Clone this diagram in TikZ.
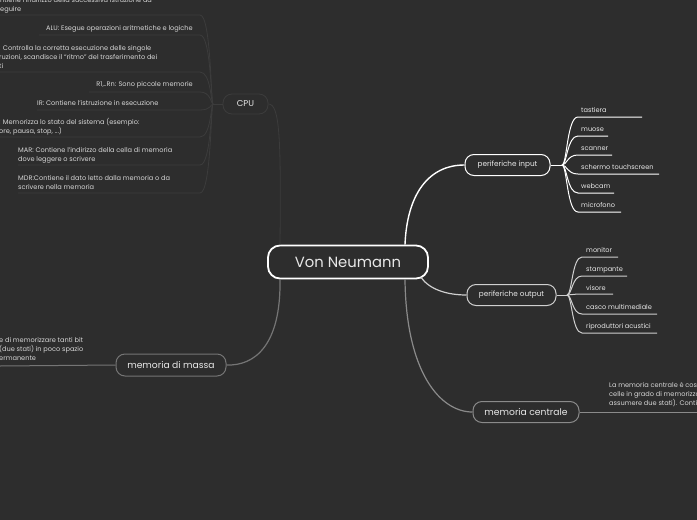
\documentclass[tikz,border=0pt]{standalone}
\usepackage{fontspec}
\setmainfont{Poppins}
\usetikzlibrary{calc}
\definecolor{bg}{HTML}{2D2D2D}
\definecolor{txt}{HTML}{E8E8E8}
\definecolor{smalltxt}{HTML}{D6D6D6}
\definecolor{faint}{HTML}{3C3C3C}
\definecolor{midgrey}{HTML}{8A8A8A}
\definecolor{lightgrey}{HTML}{CFCFCF}
\tikzset{
  mainbox/.style={draw=white, line width=1.8pt, rounded corners=12pt, minimum width=160pt, minimum height=33pt, inner sep=0pt, text=txt, font=\fontsize{14.8}{16}\selectfont},
  topicbox/.style={rounded corners=9pt, inner sep=0pt, minimum height=21pt, text=txt},
  leaf/.style={anchor=west, inner sep=0pt, text=txt, font=\fontsize{6.6}{9}\selectfont, text height=4.8pt, text depth=1.4pt},
  small/.style={inner sep=0pt, text=smalltxt, font=\fontsize{6.6}{9}\selectfont, align=left},
  smallr/.style={inner sep=0pt, text=smalltxt, font=\fontsize{6.6}{9}\selectfont, align=right},
  inbr/.style={draw=white, line width=1pt},
  outbr/.style={draw=lightgrey, line width=1pt},
  cpubr/.style={draw=faint, line width=0.8pt},
}
\begin{document}
\begin{tikzpicture}[x=1pt,y=-1pt]
\fill[bg] (0,0) rectangle (697,520);
\useasboundingbox (0,0) rectangle (697,520);
\clip (0,0) rectangle (697,520);

% central node
\node[mainbox] (VN) at (348,262) {Von Neumann};

% topics
\node[topicbox, draw=faint, line width=0.8pt, minimum width=45pt, minimum height=20pt, font=\fontsize{8.5}{10}\selectfont] (CPU) at (245.5,104) {CPU};
\node[topicbox, draw=white, line width=1pt, minimum width=85pt, font=\fontsize{7.3}{9}\selectfont] (PI) at (507.5,165) {periferiche input};
\node[topicbox, draw=lightgrey, line width=1pt, minimum width=89pt, font=\fontsize{7.3}{9}\selectfont] (PO) at (511.5,295) {periferiche output};
\node[topicbox, draw=midgrey, line width=1pt, minimum width=106pt, font=\fontsize{9.2}{11}\selectfont] (MC) at (526,412) {memoria centrale};
\node[topicbox, draw=midgrey!85!black, line width=1pt, minimum width=110pt, minimum height=22pt, font=\fontsize{9.2}{11}\selectfont] (MM) at (171,365) {memoria di massa};

% anchor points on the central node
\coordinate (vnNE) at ([xshift=57pt]VN.north);
\coordinate (vnNW) at ([xshift=-68pt]VN.north);
\coordinate (vnSE) at ([xshift=73pt,yshift=2pt]VN.south);
\coordinate (vnS2) at ([xshift=57pt]VN.south);
\coordinate (vnSW) at ([xshift=-68pt]VN.south);

% main connectors
\draw[inbr, line width=1.4pt] (vnNE) .. controls (407,195) and (428,165) .. (PI.west);
\draw[outbr, line width=1.2pt] (vnSE) .. controls (430,290) and (448,295) .. (PO.west);
\draw[draw=midgrey, line width=1.2pt] (vnS2) .. controls (406,372) and (440,412) .. (MC.west);
\draw[draw=midgrey!85!black, line width=1.2pt] (vnSW) .. controls (281,345) and (255,366) .. (MM.east);
\draw[cpubr] (vnNW) .. controls (281,140) and (280,104) .. (CPU.east);

% periferiche input leaves
\coordinate (piT) at (562,165);
\draw[inbr] (PI.east) -- (piT);
\foreach \n/\t/\ty/\ly/\ex in {tast/tastiera/110.5/117/642, muos/muose/129.5/136/608, scan/scanner/148.5/155/612, scher/schermo touchscreen/167.5/174/659, web/webcam/186.5/193/614, micro/microfono/206/212/621}{
  \node[leaf] (\n) at (581,\ty) {\t};
  \draw[inbr] (piT) .. controls (567,165) and (567,\ly) .. (578,\ly) -- (\ex,\ly);
}

% periferiche output leaves
\coordinate (poT) at (567,295);
\draw[outbr] (PO.east) -- (poT);
\foreach \n/\t/\ty/\ly/\ex in {moni/monitor/250.5/257/618, stam/stampante/269.5/276/627, viso/visore/288.5/294/613, casc/casco multimediale/307.5/314/657, ripr/riproduttori acustici/326.5/333/657}{
  \node[leaf] (\n) at (586,\ty) {\t};
  \draw[outbr] (poT) .. controls (572,295) and (572,\ly) .. (582,\ly) -- (\ex,\ly);
}

% memoria centrale text
\coordinate (mcE) at (697,412);
\draw[draw=midgrey, line width=1pt] (MC.east) -- (mcE);
\node[small, anchor=west] (mctext) at (609,395) {La memoria centrale è costituita\\celle in grado di memorizzare\\assumere due stati). Contiene};

% memoria di massa text
\coordinate (mmW) at (0,366);
\draw[draw=midgrey!85!black, line width=1pt] (MM.west) -- (mmW);
\node[small, anchor=west] (mmtext) at (-1,349.5) {e di memorizzare tanti bit\\(due stati) in poco spazio\\ermanente};

% CPU children
\coordinate (cpuT) at (213,104);
\draw[cpubr] (CPU.west) -- (cpuT);
\node[small, anchor=west] (pc) at (0,5) {ntiene l'indirizzo della successiva istruzione da\\eguire};
\node[smallr, anchor=east] (alu) at (193,28.5) {ALU: Esegue operazioni aritmetiche e logiche};
\node[small, anchor=west] (cu) at (-1,56.5) {: Controlla la corretta esecuzione delle singole\\ruzioni, scandisce il “ritmo” del trasferimento dei\\ti};
\node[smallr, anchor=east] (rn) at (193,84.5) {R1,..Rn: Sono piccole memorie};
\node[small, anchor=west] (ir) at (37,103.5) {IR: Contiene l'istruzione in esecuzione};
\node[small, anchor=west] (psw) at (-1,127) {: Memorizza lo stato del sistema (esempio:\\ore, pausa, stop, ...)};
\node[small, anchor=west] (mar) at (18,155) {MAR: Contiene l'indirizzo della cella di memoria\\dove leggere o scrivere};
\node[small, anchor=west] (mdr) at (18,183) {MDR:Contiene il dato letto dalla memoria o da\\scrivere nella memoria};

\foreach \ly/\lx in {15/0, 35/39, 72/0, 92/89, 110/37, 137/0, 165/18, 193/18}{
  \draw[cpubr] (cpuT) .. controls (211,104) and (211,\ly) .. (200,\ly) -- (\lx,\ly);
}
\end{tikzpicture}
\end{document}
